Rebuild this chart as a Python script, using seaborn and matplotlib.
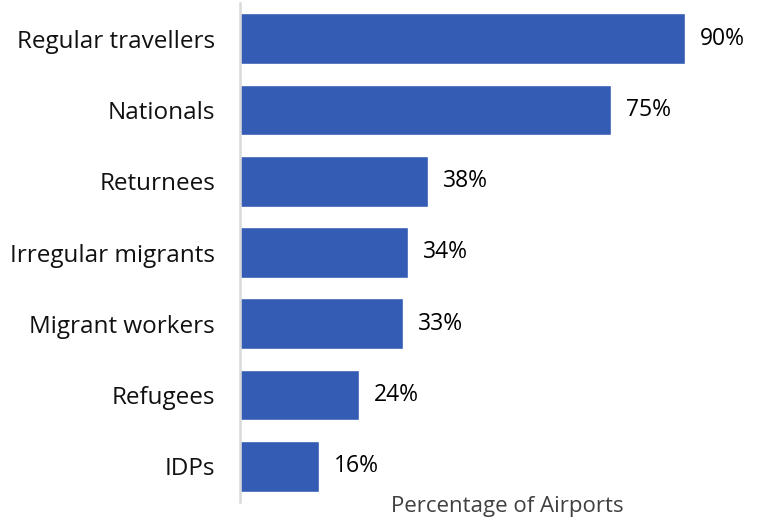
import numpy as np
import pandas as pd
import matplotlib
matplotlib.use('Agg')
import matplotlib.pyplot as plt
import seaborn as sns

# Data
categories = ['Regular travellers', 'Nationals', 'Returnees', 'Irregular migrants',
              'Migrant workers', 'Refugees', 'IDPs']
percentages = [90, 75, 38, 34, 33, 24, 16]

df = pd.DataFrame({'group': categories, 'pct': percentages})

sns.set_style('white')
plt.rcParams['font.family'] = ['Open Sans', 'DejaVu Sans']

fig = plt.figure(figsize=(7.67, 5.25), dpi=100)
ax = fig.add_axes([240 / 767, 1 - 502 / 525, 1 - 240 / 767, 499 / 525])

sns.barplot(data=df, y='group', x='pct', color='#345cb5', width=0.71,
            saturation=1, ax=ax)

ax.bar_label(ax.containers[0], labels=[f'{v}%' for v in percentages],
             padding=11, fontsize=16.5, color='black')

ax.set_xlim(0, 106.6)
ax.set_ylim(6.5, -0.5)
ax.set_xticks([])
ax.set_ylabel('')
ax.set_xlabel('Percentage of Airports', fontsize=16, color='#404040')
ax.xaxis.set_label_coords(0.507, 0.012)
ax.tick_params(axis='y', length=0, labelsize=17.5, labelcolor='#111111', pad=18)

for side in ['top', 'right', 'bottom']:
    ax.spines[side].set_visible(False)
ax.spines['left'].set_color('#d9d9d9')
ax.spines['left'].set_linewidth(1.8)

fig.savefig('out.png', dpi=100)
